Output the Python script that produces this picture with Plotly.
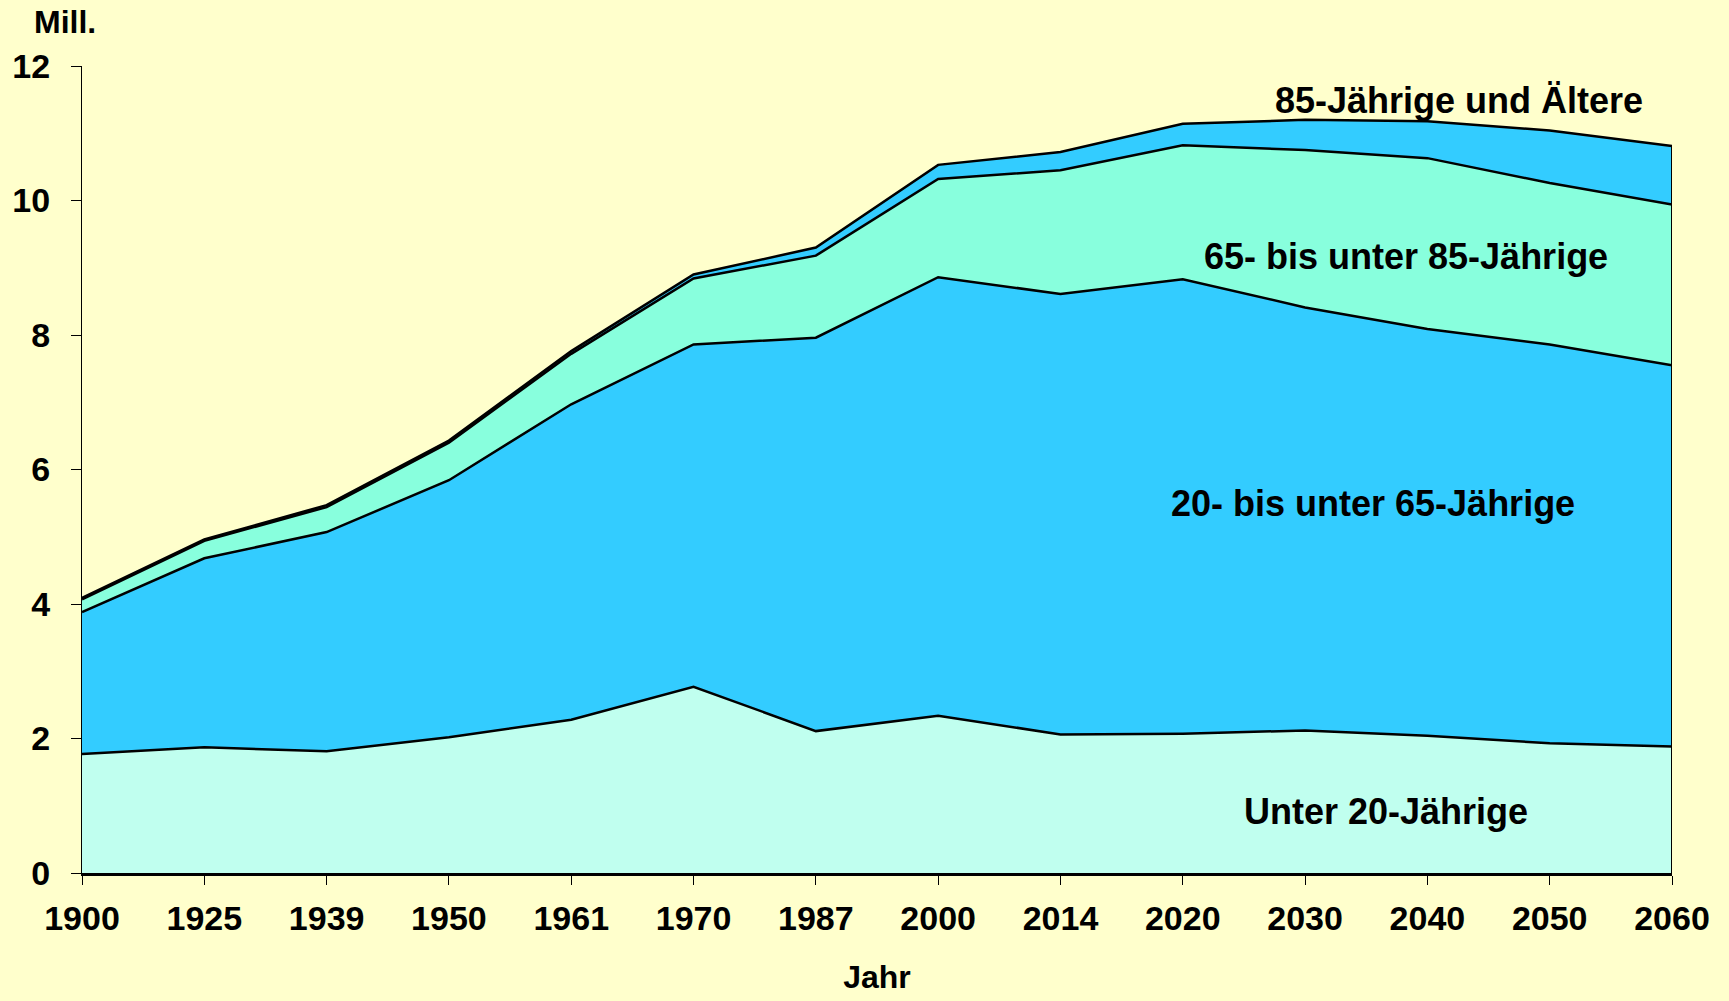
import plotly.graph_objects as go

years = ['1900', '1925', '1939', '1950', '1961', '1970', '1987',
         '2000', '2014', '2020', '2030', '2040', '2050', '2060']

# Bevoelkerung in Mill. nach Altersgruppen
unter_20 = [1.77, 1.87, 1.81, 2.02, 2.28, 2.77, 2.11, 2.34, 2.06, 2.07, 2.12, 2.04, 1.93, 1.88]
von_20_bis_65 = [2.11, 2.81, 3.26, 3.82, 4.69, 5.09, 5.85, 6.52, 6.55, 6.76, 6.29, 6.05, 5.93, 5.67]
von_65_bis_85 = [0.19, 0.26, 0.37, 0.56, 0.75, 0.98, 1.22, 1.46, 1.84, 1.99, 2.34, 2.54, 2.40, 2.39]
ab_85 = [0.02, 0.02, 0.03, 0.03, 0.04, 0.06, 0.12, 0.21, 0.27, 0.32, 0.45, 0.55, 0.78, 0.87]

series = [
    ('Unter 20-Jährige', unter_20, '#C0FFEF'),
    ('20- bis unter 65-Jährige', von_20_bis_65, '#33CCFF'),
    ('65- bis unter 85-Jährige', von_65_bis_85, '#88FFDD'),
    ('85-Jährige und Ältere', ab_85, '#33CCFF'),
]

label_pos = {
    'Unter 20-Jährige': (0.820, 0.91),
    '20- bis unter 65-Jährige': (0.812, 5.49),
    '65- bis unter 85-Jährige': (0.833, 9.17),
    '85-Jährige und Ältere': (0.866, 11.48),
}

font = dict(family='Liberation Sans, Arial, sans-serif', color='black', weight='bold')

fig = go.Figure()
for name, values, color in series:
    fig.add_trace(go.Scatter(x=years, y=values, name=name, mode='lines', stackgroup='one',
                             line=dict(color='black', width=2.5), fillcolor=color))

# rechte Kante der Flaeche
total = [sum(v) for v in zip(unter_20, von_20_bis_65, von_65_bis_85, ab_85)]
fig.add_trace(go.Scatter(x=[years[-1], years[-1]], y=[0, total[-1]], mode='lines',
                         line=dict(color='black', width=2), hoverinfo='skip'))

for name, (px, py) in label_pos.items():
    fig.add_annotation(x=px, xref='paper', y=py, yref='y', text=name, showarrow=False,
                       xanchor='center', yanchor='middle', font=dict(font, size=36))

fig.add_annotation(x=-0.011, xref='paper', y=1.054, yref='paper', text='Mill.', showarrow=False,
                   xanchor='center', yanchor='middle', font=dict(font, size=32))

fig.update_layout(
    width=1729, height=1001,
    margin=dict(l=80, r=57, t=66, b=126),
    paper_bgcolor='#FFFFCC', plot_bgcolor='#FFFFCC',
    showlegend=False,
    font=dict(font, size=34),
    xaxis=dict(type='category', range=[0, 13], showgrid=False, zeroline=False,
               showline=True, linecolor='black', linewidth=3,
               ticks='outside', ticklen=9, tickcolor='black', tickwidth=1,
               ticklabelstandoff=4,
               tickfont=dict(font, size=34),
               title=dict(text='Jahr', font=dict(font, size=32), standoff=30)),
    yaxis=dict(range=[0, 12], dtick=2, showgrid=False, zeroline=False,
               showline=True, linecolor='black', linewidth=1,
               ticks='outside', ticklen=10, tickcolor='black', tickwidth=1,
               ticklabelstandoff=14,
               tickfont=dict(font, size=34)),
)

fig.write_html("out.html", config={'displayModeBar': False},
               post_script="document.body.style.margin='0';")
